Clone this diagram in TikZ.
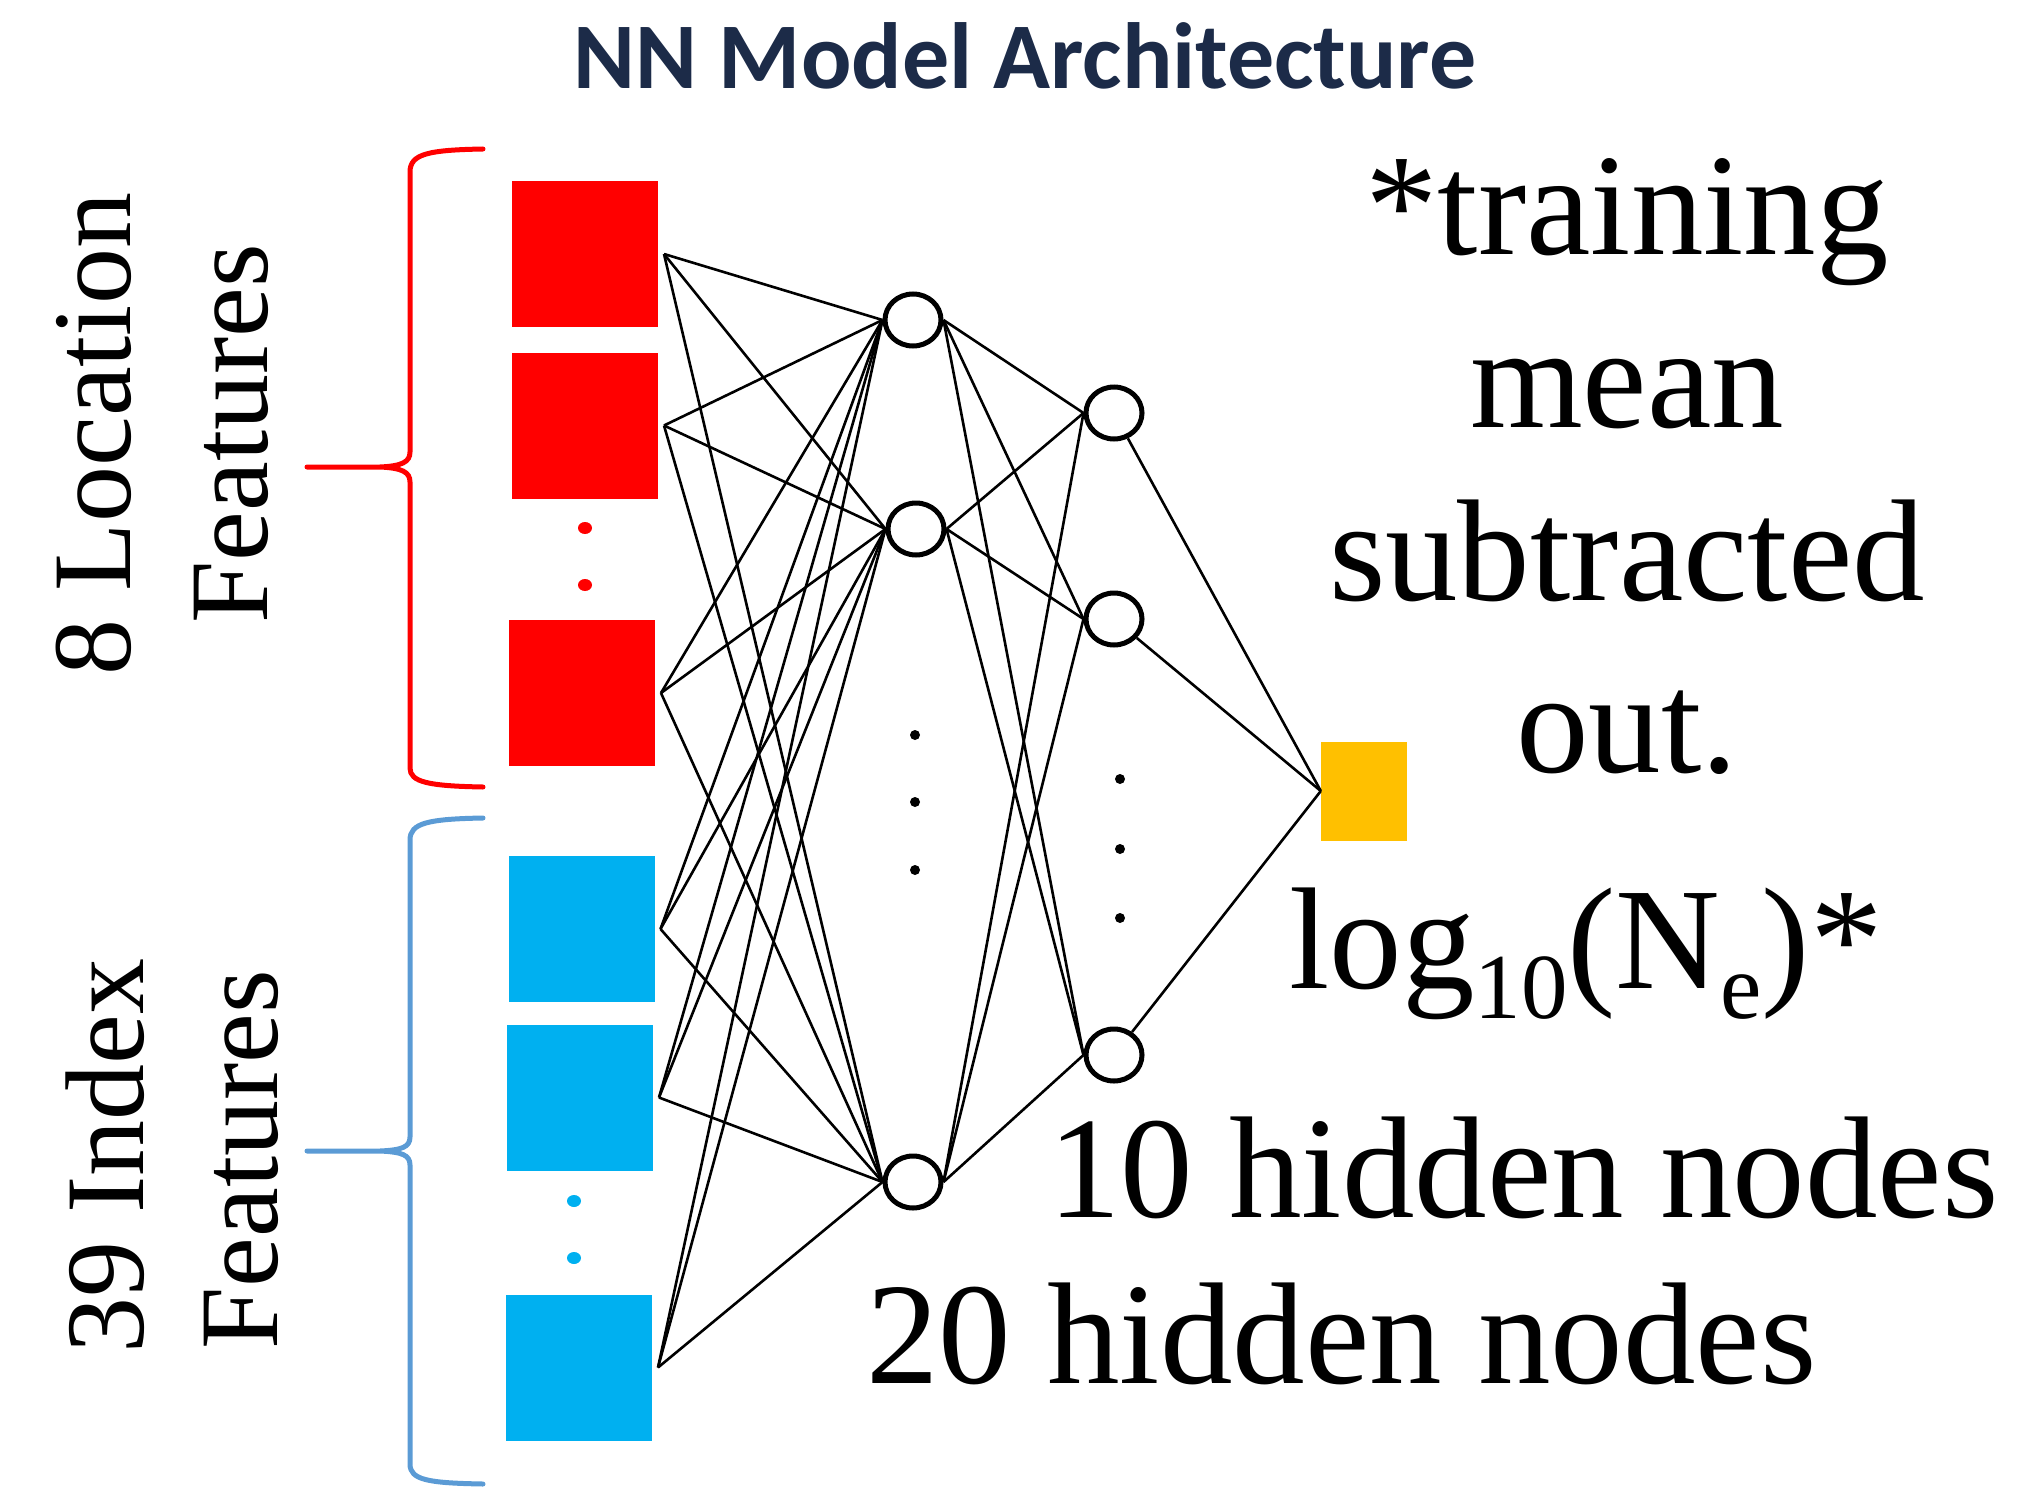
\documentclass[tikz,border=0pt]{standalone}
\usepackage{fontspec}
\setmainfont{Liberation Serif}
\newfontfamily\headfont{Carlito}
\usetikzlibrary{shapes.geometric}
\definecolor{featred}{HTML}{FF0000}
\definecolor{featblue}{HTML}{00B0F0}
\definecolor{braceblue}{HTML}{5B9BD5}
\definecolor{outgold}{HTML}{FFC000}
\definecolor{titlenavy}{RGB}{28,43,72}

\begin{document}
\begin{tikzpicture}[x=1pt,y=-1pt,
  feat/.style={rectangle, minimum width=146pt, minimum height=146pt, inner sep=0pt, outer xsep=6pt, outer ysep=0pt},
  unit/.style={ellipse, draw, line width=5pt, minimum width=56pt, minimum height=52pt, inner sep=0pt, fill=white},
  outbox/.style={rectangle, fill=outgold, minimum width=86pt, minimum height=99pt, inner sep=0pt},
  wire/.style={line width=2.6pt},
  brace/.style={line width=5pt, line cap=round},
  dotmark/.style={ellipse, fill, minimum width=10pt, minimum height=10pt, inner sep=0pt},
  cdot/.style={ellipse, fill, minimum width=14pt, minimum height=12pt, inner sep=0pt},
  sidelabel/.style={rotate=90, anchor=base, inner sep=0pt, font=\fontsize{112}{134}\selectfont},
  bigtext/.style={inner sep=0pt, font=\fontsize{145}{174}\selectfont}
]
\useasboundingbox (0,0) rectangle (2018,1490);

% title
\node[anchor=base, inner sep=0pt, text=titlenavy, font=\headfont\bfseries\fontsize{94}{110}\selectfont] (title) at (1025,89) {NN Model Architecture};

% side labels
\node[sidelabel] (loc1) at (130,434) {8 Location};
\node[sidelabel] (loc2) at (267,434) {Features};
\node[sidelabel] (idx1) at (143,1156) {39 Index};
\node[sidelabel] (idx2) at (277,1160) {Features};

% braces
\draw[brace, featred] (483,149) .. controls (428,150) and (410,154) .. (410,172) -- (410,452)
  .. controls (410,462) and (402,466) .. (380,467) -- (307,467)
  (380,467) .. controls (402,468) and (410,472) .. (410,482) -- (410,768)
  .. controls (410,782) and (428,786) .. (483,787);
\draw[brace, braceblue] (483,818) .. controls (428,819) and (410,823) .. (410,840) -- (410,1137)
  .. controls (410,1147) and (402,1150) .. (380,1151) -- (307,1151)
  (380,1151) .. controls (402,1152) and (410,1155) .. (410,1165) -- (410,1464)
  .. controls (410,1480) and (428,1483) .. (483,1484);

% input features
\node[feat, fill=featred] (b1) at (585,254) {};
\node[feat, fill=featred] (b2) at (585,425.5) {};
\node[feat, fill=featred] (b3) at (582,693) {};
\node[cdot, featred] (rd1) at (585,528) {};
\node[cdot, featred] (rd2) at (585,585) {};
\node[feat, fill=featblue] (b4) at (581.5,929) {};
\node[feat, fill=featblue] (b5) at (580,1097.5) {};
\node[feat, fill=featblue] (b6) at (579,1367.5) {};
\node[cdot, featblue] (bd1) at (574,1201) {};
\node[cdot, featblue] (bd2) at (574,1258) {};

% hidden layers
\node[unit] (c1) at (913,320) {};
\node[unit] (c2) at (916,529) {};
\node[unit] (c3) at (913,1182) {};
\node[dotmark] (hd1) at (915,735) {};
\node[dotmark] (hd2) at (915,802) {};
\node[dotmark] (hd3) at (915,870) {};

\node[unit] (d1) at (1114,413) {};
\node[unit] (d2) at (1114,619) {};
\node[unit] (d3) at (1114,1055) {};
\node[dotmark] (kd1) at (1120,779) {};
\node[dotmark] (kd2) at (1120,849) {};
\node[dotmark] (kd3) at (1120,918) {};

% output
\node[outbox] (out) at (1364,791) {};

% connections
\foreach \i in {b1,b2,b3,b4,b5,b6}
  \foreach \j in {c1,c2,c3}
    \draw[wire] (\i.east) -- (\j.west);
\foreach \i in {c1,c2,c3}
  \foreach \j in {d1,d2,d3}
    \draw[wire] (\i.east) -- (\j.west);
\foreach \i in {d1,d2,d3}
  \draw[wire] (\i) -- (out.west);

% annotations
\node[bigtext, anchor=base] (n1) at (1627,254) {*training};
\node[bigtext, anchor=base] (n2) at (1627,427) {mean};
\node[bigtext, anchor=base] (n3) at (1627,600) {subtracted};
\node[bigtext, anchor=base] (n4) at (1627,772) {out.};
\node[bigtext, anchor=base west] (target) at (1289,988)
  {log\raisebox{-30pt}{\fontsize{93}{93}\selectfont 10}(N\raisebox{-30pt}{\fontsize{93}{93}\selectfont e})*};
\node[bigtext, anchor=base west] (h10) at (1048,1217) {10 hidden nodes};
\node[bigtext, anchor=base west] (h20) at (866,1383) {20 hidden nodes};
\end{tikzpicture}
\end{document}
